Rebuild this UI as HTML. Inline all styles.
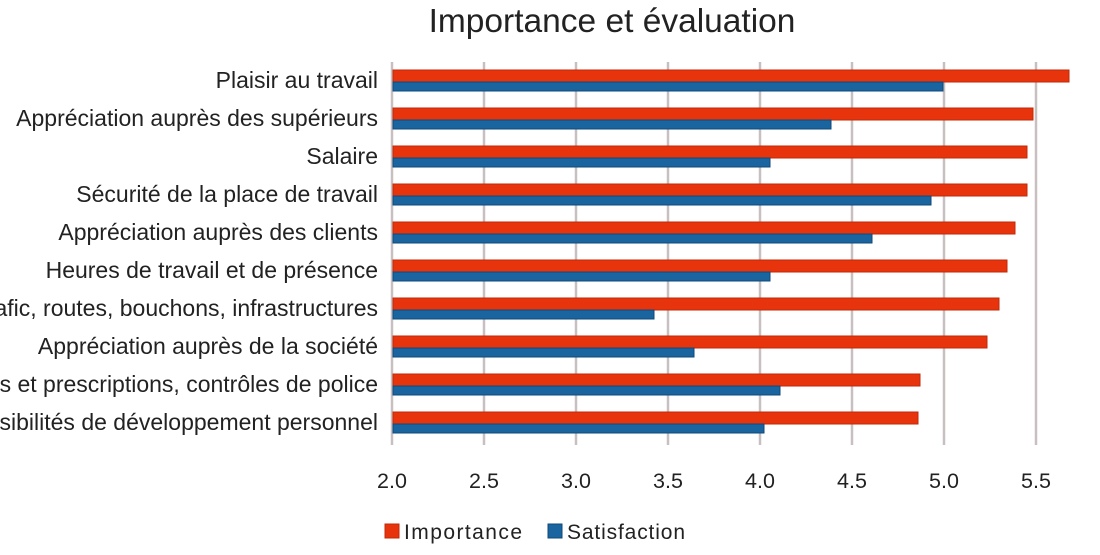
<!DOCTYPE html>
<html><head><meta charset="utf-8"><style>
body{margin:0;background:#fff;width:1100px;height:550px;overflow:hidden;font-family:"Liberation Sans",sans-serif;color:#222}
</style></head><body>
<svg width="1100" height="550" xmlns="http://www.w3.org/2000/svg" font-family="Liberation Sans, sans-serif">
<text x="612" y="32" font-size="33.5" text-anchor="middle" fill="#222">Importance et évaluation</text>
<g stroke="#c8c0c0" stroke-width="2.5">
<line x1="392" y1="62" x2="392" y2="445"/><line x1="484" y1="62" x2="484" y2="445"/><line x1="576" y1="62" x2="576" y2="445"/><line x1="668" y1="62" x2="668" y2="445"/><line x1="760" y1="62" x2="760" y2="445"/><line x1="852" y1="62" x2="852" y2="445"/><line x1="944" y1="62" x2="944" y2="445"/><line x1="1036" y1="62" x2="1036" y2="445"/>
</g>
<g font-size="21.5" fill="#222" text-anchor="middle">
<text x="392" y="488">2.0</text><text x="484" y="488">2.5</text><text x="576" y="488">3.0</text><text x="668" y="488">3.5</text><text x="760" y="488">4.0</text><text x="852" y="488">4.5</text><text x="944" y="488">5.0</text><text x="1036" y="488">5.5</text>
</g>
<g stroke-width="1">
<rect x="393" y="70" width="676" height="12" fill="#e8340c" stroke="#c02a08"/><rect x="393" y="82" width="550" height="9" fill="#1a64a0" stroke="#0f4a7a"/>
<rect x="393" y="108" width="640" height="12" fill="#e8340c" stroke="#c02a08"/><rect x="393" y="120" width="438" height="9" fill="#1a64a0" stroke="#0f4a7a"/>
<rect x="393" y="146" width="634" height="12" fill="#e8340c" stroke="#c02a08"/><rect x="393" y="158" width="377" height="9" fill="#1a64a0" stroke="#0f4a7a"/>
<rect x="393" y="184" width="634" height="12" fill="#e8340c" stroke="#c02a08"/><rect x="393" y="196" width="538" height="9" fill="#1a64a0" stroke="#0f4a7a"/>
<rect x="393" y="222" width="622" height="12" fill="#e8340c" stroke="#c02a08"/><rect x="393" y="234" width="479" height="9" fill="#1a64a0" stroke="#0f4a7a"/>
<rect x="393" y="260" width="614" height="12" fill="#e8340c" stroke="#c02a08"/><rect x="393" y="272" width="377" height="9" fill="#1a64a0" stroke="#0f4a7a"/>
<rect x="393" y="298" width="606" height="12" fill="#e8340c" stroke="#c02a08"/><rect x="393" y="310" width="261" height="9" fill="#1a64a0" stroke="#0f4a7a"/>
<rect x="393" y="336" width="594" height="12" fill="#e8340c" stroke="#c02a08"/><rect x="393" y="348" width="301" height="9" fill="#1a64a0" stroke="#0f4a7a"/>
<rect x="393" y="374" width="527" height="12" fill="#e8340c" stroke="#c02a08"/><rect x="393" y="386" width="387" height="9" fill="#1a64a0" stroke="#0f4a7a"/>
<rect x="393" y="412" width="525" height="12" fill="#e8340c" stroke="#c02a08"/><rect x="393" y="424" width="371" height="9" fill="#1a64a0" stroke="#0f4a7a"/>
</g>
<g font-size="23" fill="#222" text-anchor="end">
<text x="378" y="88">Plaisir au travail</text>
<text x="378" y="126">Appréciation auprès des supérieurs</text>
<text x="378" y="164">Salaire</text>
<text x="378" y="202">Sécurité de la place de travail</text>
<text x="378" y="240">Appréciation auprès des clients</text>
<text x="378" y="278">Heures de travail et de présence</text>
<text x="378" y="316">Trafic, routes, bouchons, infrastructures</text>
<text x="378" y="354">Appréciation auprès de la société</text>
<text x="378" y="392">Lois et prescriptions, contrôles de police</text>
<text x="378" y="430">Possibilités de développement personnel</text>
</g>
<rect x="385" y="524" width="14" height="14" fill="#e8340c" stroke="#c02a08"/>
<text x="404" y="539" font-size="21" fill="#222" textLength="118">Importance</text>
<rect x="548" y="524" width="14" height="14" fill="#1a64a0" stroke="#0f4a7a"/>
<text x="567" y="539" font-size="21" fill="#222" textLength="118">Satisfaction</text>
</svg>
</body></html>
